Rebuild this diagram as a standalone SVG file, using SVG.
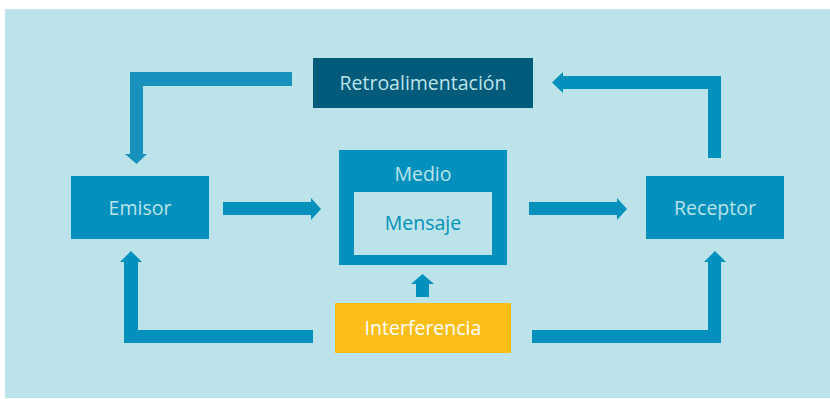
<svg xmlns="http://www.w3.org/2000/svg" width="830" height="399" viewBox="0 0 830 399">
<style>
.bg{fill:#bde3ea}
.box{fill:#0191bc}
.dark{fill:#005a7a}
.yellow{fill:#fbbe17}
.conn{fill:#0191bc}
.conn2{fill:#1891bd}
text{font-family:"Open Sans","Noto Sans","Liberation Sans",sans-serif;font-size:19.5px;text-anchor:middle}
.lt{fill:#bde3ea}
.bl{fill:#0191bc}
.wh{fill:#ffffff}
</style>
<rect x="0" y="0" width="830" height="399" fill="#ffffff"/>
<rect class="bg" x="5" y="9" width="825" height="389"/>
<g id="connectors">
<path class="conn2" d="M292,72 L130,72 L130,154 L125,154 L136.5,164 L147,154 L143,154 L143,86 L292,86 Z"/>
<path class="conn" d="M721,158 L708,158 L708,89 L563,89 L563,93 L552,82.5 L563,72 L563,76 L721,76 Z"/>
<path class="conn" d="M223,202 L311,202 L311,198 L321,209 L311,220 L311,215 L223,215 Z"/>
<path class="conn" d="M529,202 L617,202 L617,198 L627,209 L617,220 L617,215 L529,215 Z"/>
<path class="conn" d="M313,330 L138,330 L138,262 L142,262 L131,251 L120,262 L124,262 L124,343 L313,343 Z"/>
<path class="conn" d="M532,330 L708,330 L708,262 L704,262 L715,251 L726,262 L721,262 L721,343 L532,343 Z"/>
<path class="conn" d="M416,297 L416,284 L411,284 L422.5,274 L434,284 L429,284 L429,297 Z"/>
</g>
<g id="retroalimentacion">
<rect class="dark" x="313" y="58" width="220" height="50"/>
<text class="lt" x="423" y="90">Retroalimentación</text>
</g>
<g id="emisor">
<rect class="box" x="71" y="176" width="138" height="63"/>
<text class="lt" x="140" y="215">Emisor</text>
</g>
<g id="medio">
<rect class="box" x="339" y="150" width="168" height="115"/>
<rect class="bg" x="354" y="192" width="138" height="63"/>
<text class="lt" x="423" y="181">Medio</text>
<text class="bl" x="423" y="230">Mensaje</text>
</g>
<g id="receptor">
<rect class="box" x="646" y="176" width="138" height="63"/>
<text class="lt" x="715" y="215">Receptor</text>
</g>
<g id="interferencia">
<rect class="yellow" x="335" y="303" width="176" height="50"/>
<text class="wh" x="423" y="335">Interferencia</text>
</g>
</svg>
